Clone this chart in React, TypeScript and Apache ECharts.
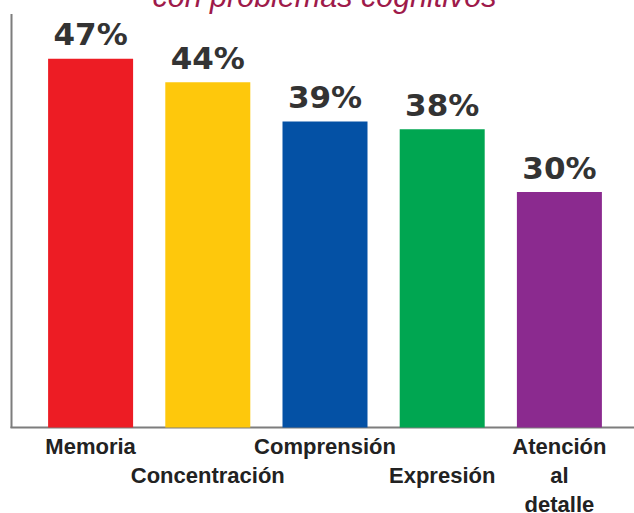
import React, { useEffect, useRef } from "react";
import * as echarts from "echarts";

const categories = ["Memoria", "Concentración", "Comprensión", "Expresión", "Atención al detalle"];
const axisLabels = ["Memoria", "\nConcentración", "Comprensión", "\nExpresión", "Atención\nal\ndetalle"];
const values = [47, 44, 39, 38, 30];
const barColors = ["#ED1C24", "#FEC80C", "#0451A5", "#00A651", "#8B2A8F"];
const subtitle = "con problemas cognitivos";

export default function App() {
  const ref = useRef<HTMLDivElement>(null);
  useEffect(() => {
    const chart = echarts.init(ref.current!, null, { renderer: "svg" });
    const font = "'Liberation Sans', Arial, Helvetica, sans-serif";
    chart.setOption({
      animation: false,
      backgroundColor: "#ffffff",
      grid: { left: 32, right: 16, top: 14, bottom: 85.5, containLabel: false, outerBoundsMode: "none" },
      xAxis: {
        type: "category",
        data: categories,
        axisLine: { show: false },
        axisTick: { show: false },
        axisLabel: {
          interval: 0,
          margin: 4,
          color: "#222222",
          fontFamily: font,
          fontWeight: "bold",
          fontSize: 22,
          lineHeight: 29,
          align: "center",
          formatter: (_v: string, i: number) => axisLabels[i],
        },
      },
      yAxis: { type: "value", min: 0, max: 52.7, show: false, splitLine: { show: false } },
      series: [
        {
          type: "bar",
          barWidth: 85,
          data: values.map((v, i) => ({ value: v, itemStyle: { color: barColors[i] } })),
          label: {
            show: true,
            position: "top",
            distance: 9,
            formatter: "{c}%",
            color: "#333333",
            fontFamily: "'DejaVu Sans', Verdana, sans-serif",
            fontWeight: "bold",
            fontSize: 31,
          },
        },
      ],
      graphic: [
        {
          type: "line",
          shape: { x1: 11.5, y1: 14, x2: 11.5, y2: 428 },
          style: { stroke: "#7d7d7d", lineWidth: 2 },
        },
        {
          type: "line",
          shape: { x1: 10.5, y1: 427.5, x2: 634, y2: 427.5 },
          style: { stroke: "#7d7d7d", lineWidth: 2 },
        },
        {
          type: "text",
          x: 324.5,
          y: -4,
          style: {
            text: subtitle,
            fill: "#9E1A4A",
            font: "italic 30.5px 'Liberation Sans', Arial, sans-serif",
            align: "center",
            verticalAlign: "middle",
          },
        },
      ],
    });
    return () => chart.dispose();
  }, []);
  return <div ref={ref} style={{ width: 634, height: 513, position: "fixed", left: 0, top: 0 }} />;
}
